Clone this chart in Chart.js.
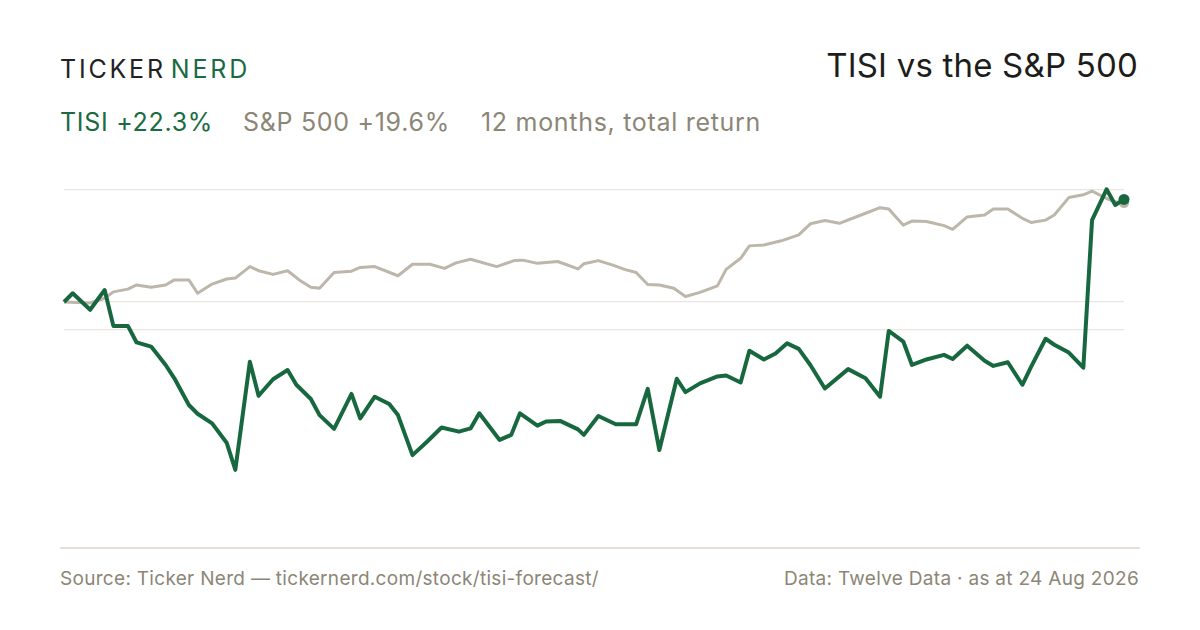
<!DOCTYPE html>
<html>
<head>
<meta charset="utf-8">
<title>TISI vs the S&amp;P 500</title>
<script src="https://cdn.jsdelivr.net/npm/chart.js@4.4.1/dist/chart.umd.min.js"></script>
<style>
	body { margin: 0; background: #fff; font-family: Inter, "Noto Sans", sans-serif; }
	.page { position: relative; width: 1200px; height: 630px; overflow: hidden; background: #fff; }
	.logo { position: absolute; left: 60px; top: 57px; font-size: 25px; letter-spacing: 2.8px; color: #222; line-height: 1; }
	.logo span { color: #1a6b42; margin-left: 5px; }
	.title { position: absolute; right: 62px; top: 49px; font-size: 33px; color: #1d1d1b; line-height: 1; letter-spacing: 0.2px; }
	.sub { position: absolute; top: 110px; font-size: 25px; line-height: 1; color: #8c8677; letter-spacing: 0.7px; }
	.sub.tisi { left: 60px; color: #1a6b42; }
	.rule { position: absolute; left: 60px; width: 1080px; top: 547px; height: 2px; background: #e4e0d6; }
	.foot { position: absolute; top: 569px; font-size: 19px; color: #8c8677; line-height: 1; letter-spacing: 0.3px; }
	#wrap { position: absolute; left: 44px; top: 150px; width: 1100px; height: 410px; }
</style>
</head>
<body>
<div class="page">
	<div class="logo">TICKER<span>NERD</span></div>
	<div class="title">TISI vs the S&amp;P 500</div>
	<div class="sub tisi">TISI +22.3%</div>
	<div class="sub" style="left:243px">S&amp;P 500 +19.6%</div>
	<div class="sub" style="left:481px">12 months, total return</div>
	<div class="rule"></div>
	<div class="foot" style="left:60px">Source: Ticker Nerd — tickernerd.com/stock/tisi-forecast/</div>
	<div class="foot" style="right:61px">Data: Twelve Data · as at 24 Aug 2026</div>
	<div id="wrap"><canvas id="myChart"></canvas></div>
</div>
<script>
	// days since 24 Aug 2025, return in %
	const tisiDays = [0, 3, 9, 14, 17, 22, 25, 30, 35, 38, 43, 46, 51, 56, 59, 64, 67, 72, 77, 80, 85, 88, 93, 99, 102, 107, 112, 115, 120, 125, 130, 136, 140, 143, 150, 154, 157, 163, 166, 171, 177, 179, 184, 190, 197, 201, 205, 211, 214, 219, 225, 228, 233, 236, 241, 245, 249, 253, 257, 262, 270, 276, 281, 284, 289, 292, 297, 303, 306, 311, 317, 320, 325, 330, 333, 338, 341, 346, 351, 354, 359, 362, 365];
	const tisiReturn = [0, 1.9, -1.7, 2.6, -5.2, -5.2, -8.8, -9.7, -13.7, -16.6, -22.4, -24.3, -26.4, -30.6, -36.5, -13.0, -20.4, -16.8, -14.8, -18.0, -21.1, -24.6, -27.6, -20.0, -25.3, -20.6, -22.2, -24.6, -33.3, -30.4, -27.3, -28.2, -27.5, -24.2, -30.0, -28.9, -24.2, -26.9, -26.0, -25.9, -27.7, -28.9, -24.8, -26.6, -26.6, -18.9, -32.2, -16.7, -19.6, -17.7, -16.2, -16.0, -17.5, -10.6, -12.5, -11.2, -9.0, -10.2, -13.7, -18.8, -14.6, -16.6, -20.6, -6.3, -8.6, -13.7, -12.5, -11.5, -12.4, -9.5, -12.8, -13.9, -13.1, -18.0, -14.1, -8.0, -9.3, -11.0, -14.3, 17.8, 24.5, 21.1, 22.3];

	const spxDays = [0, 9, 14, 17, 22, 25, 30, 35, 38, 43, 46, 51, 56, 59, 64, 67, 72, 77, 81, 85, 88, 93, 99, 102, 107, 115, 120, 126, 131, 135, 140, 149, 155, 158, 163, 170, 177, 179, 184, 189, 193, 197, 201, 205, 210, 214, 219, 225, 228, 233, 236, 241, 247, 253, 257, 262, 267, 276, 281, 284, 289, 292, 297, 303, 306, 311, 317, 320, 325, 330, 333, 338, 341, 346, 351, 354, 359, 362, 365];
	const spxReturn = [0, -0.2, 0.8, 2.2, 2.8, 3.7, 3.2, 3.7, 4.8, 4.8, 1.9, 3.9, 5.0, 5.2, 7.7, 6.8, 6.0, 6.8, 4.8, 3.2, 3.0, 6.4, 6.7, 7.5, 7.7, 5.7, 8.2, 8.2, 7.3, 8.5, 9.3, 7.7, 9.0, 9.1, 8.4, 8.8, 7.2, 8.3, 9.0, 8.0, 7.1, 6.4, 3.8, 3.7, 3.0, 1.2, 2.1, 3.5, 7.1, 9.5, 12.2, 12.4, 13.3, 14.6, 17.0, 17.7, 17.1, 19.3, 20.5, 20.2, 16.7, 17.6, 17.5, 16.6, 15.8, 18.5, 18.9, 20.2, 20.2, 18.2, 17.3, 17.8, 18.9, 22.7, 23.3, 24.1, 22.5, 21.8, 21.5];

	const gridValues = [24.5, 0, -6];

	const green = '#18683f';
	const grey = '#bdb6ab';

	function toPoints(xs, ys) {
		return xs.map((x, i) => ({ x: x, y: ys[i] }));
	}

	// only the last point gets a dot
	function endDot(size) {
		return ctx => ctx.dataIndex === ctx.dataset.data.length - 1 ? size : 0;
	}

	window.onload = () => {
		const ctx = document.getElementById('myChart').getContext('2d');
		new Chart(ctx, {
			type: 'line',
			data: {
				datasets: [{
					label: 'TISI',
					data: toPoints(tisiDays, tisiReturn),
					borderColor: green,
					backgroundColor: green,
					borderWidth: 4,
					borderJoinStyle: 'round',
					pointRadius: endDot(5.5),
					pointBorderWidth: 0,
					tension: 0,
					clip: false
				}, {
					label: 'S&P 500',
					data: toPoints(spxDays, spxReturn),
					borderColor: grey,
					backgroundColor: grey,
					borderWidth: 3,
					borderJoinStyle: 'round',
					pointRadius: endDot(5),
					pointBorderWidth: 0,
					tension: 0,
					clip: false
				}]
			},
			options: {
				responsive: true,
				maintainAspectRatio: false,
				animation: false,
				layout: { padding: { left: 20, right: 20, top: 20, bottom: 12 } },
				scales: {
					x: {
						type: 'linear',
						min: 0,
						max: 365,
						display: false
					},
					y: {
						type: 'linear',
						min: -53.5,
						max: 28.7,
						border: { display: false },
						grid: { color: '#e9e6df', lineWidth: 1.3, drawTicks: false },
						ticks: { display: false },
						afterBuildTicks: axis => {
							axis.ticks = gridValues.map(v => ({ value: v }));
						}
					}
				},
				plugins: {
					legend: { display: false },
					tooltip: { enabled: false }
				}
			}
		});
	}
</script>
</body>
</html>
